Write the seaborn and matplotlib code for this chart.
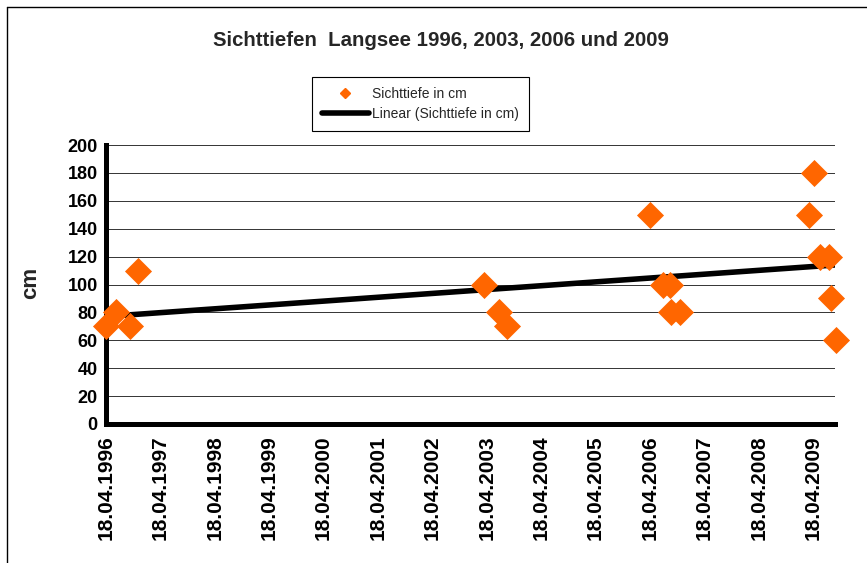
import matplotlib
matplotlib.use('Agg')
import matplotlib.pyplot as plt
import matplotlib.dates as mdates
from matplotlib.lines import Line2D
import pandas as pd
import seaborn as sns

# Messtermine und Sichttiefen
dates = ['18.04.1996', '21.06.1996', '27.09.1996', '22.11.1996',
         '28.03.2003', '11.07.2003', '04.09.2003',
         '18.04.2006', '12.07.2006', '31.08.2006', '06.09.2006', '05.11.2006',
         '23.03.2009', '22.04.2009', '04.06.2009', '02.08.2009', '14.08.2009', '19.09.2009']
depth_cm = [70, 80, 70, 110,
            100, 80, 70,
            150, 100, 100, 80, 80,
            150, 180, 120, 120, 90, 60]
tick_dates = ['18.04.%d' % y for y in range(1996, 2010)]
y_ticks = list(range(0, 201, 20))

sns.set_theme(style='white')
plt.rcParams['font.family'] = ['Liberation Sans', 'DejaVu Sans']

df = pd.DataFrame({'Datum': pd.to_datetime(dates, format='%d.%m.%Y'), 'Sichttiefe': depth_cm})
df['x'] = mdates.date2num(df['Datum'])
ticks = mdates.date2num(pd.to_datetime(tick_dates, format='%d.%m.%Y'))

fig = plt.figure(figsize=(8.67, 5.63), dpi=100)
ax = fig.add_axes([106 / 867, 1 - 424 / 563, 729 / 867, 279 / 563])

sns.scatterplot(data=df, x='x', y='Sichttiefe', marker='D', s=190, color='#FF6600',
                linewidth=0, ax=ax, clip_on=False, zorder=4, legend=False)
sns.regplot(data=df, x='x', y='Sichttiefe', scatter=False, ci=None, ax=ax,
            line_kws={'color': 'black', 'lw': 4, 'solid_capstyle': 'butt', 'zorder': 3})

ax.set_xlim(ticks[0], mdates.date2num(pd.Timestamp('2009-09-12')))
ax.set_ylim(0, 200)
ax.set_xticks(ticks)
ax.set_xticklabels(tick_dates, rotation=90, fontweight='bold', fontsize=15)
ax.set_yticks(y_ticks)
ax.set_yticklabels([str(v) for v in y_ticks], fontweight='bold', fontsize=13)
ax.set_xlabel('')
ax.set_ylabel('')
ax.yaxis.grid(True, color='#333333', lw=0.7)
ax.set_axisbelow(True)
for side in ['top', 'right']:
    ax.spines[side].set_visible(False)
for side in ['left', 'bottom']:
    ax.spines[side].set_color('black')
    ax.spines[side].set_linewidth(3.6)
ax.tick_params(axis='both', direction='out', length=4, width=3, color='black',
               labelcolor='black', pad=2)
ax.tick_params(axis='x', pad=4)

handles = [Line2D([], [], marker='D', color='#FF6600', ls='none', markersize=5.5),
           Line2D([], [], color='black', lw=4)]
leg = ax.legend(handles, ['Sichttiefe in cm', 'Linear (Sichttiefe in cm)'],
                loc='upper left', bbox_to_anchor=(312 / 867, 1 - 77 / 563),
                bbox_transform=fig.transFigure, borderaxespad=0, fontsize=10,
                frameon=True, fancybox=False, edgecolor='black', framealpha=1,
                handlelength=3.4, handletextpad=0.25, labelspacing=0.45,
                borderpad=0.7)
leg.get_frame().set_linewidth(0.8)

fig.text(441 / 867, 1 - 40 / 563, 'Sichttiefen  Langsee 1996, 2003, 2006 und 2009',
         ha='center', va='center', fontsize=14.7, fontweight='bold')
fig.text(31 / 867, 1 - 283 / 563, 'cm', rotation=90, ha='center', va='center',
         fontsize=16, fontweight='bold')

# Rahmen des Diagrammbereichs
fig.add_artist(Line2D([7 / 867, 7 / 867], [0, 1 - 7 / 563], transform=fig.transFigure,
                      color='black', lw=1))
fig.add_artist(Line2D([7 / 867, 1], [1 - 7 / 563, 1 - 7 / 563], transform=fig.transFigure,
                      color='black', lw=1))

fig.savefig('out.png', dpi=100)
